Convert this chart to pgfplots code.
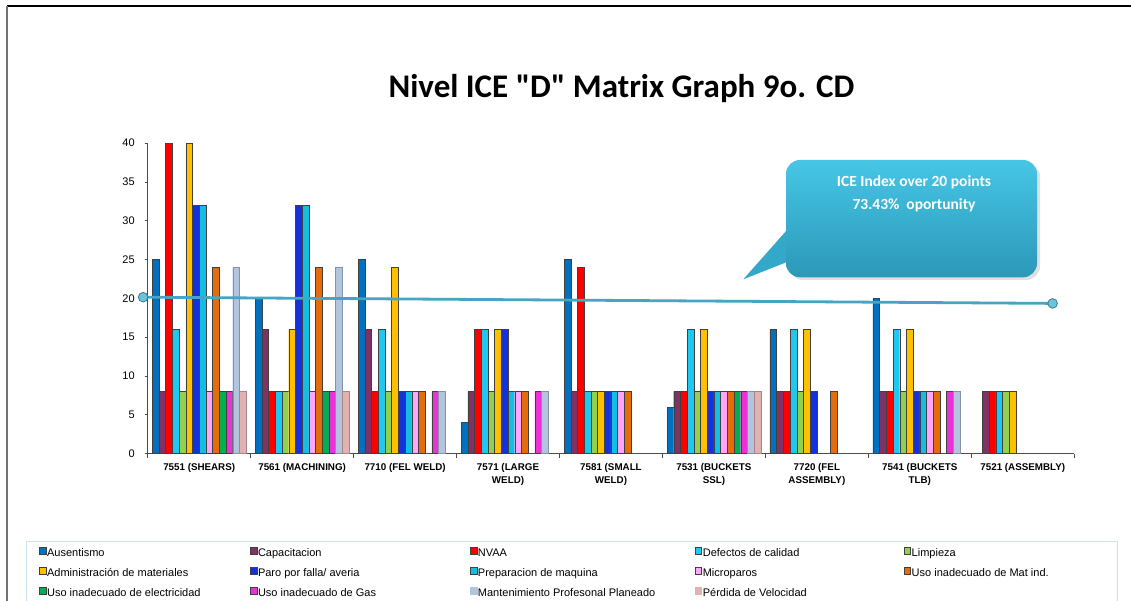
\documentclass[border=0pt]{standalone}
\usepackage{pgfplots}
\pgfplotsset{compat=1.18}
\usepackage{fontspec}
\setmainfont{Liberation Sans}
\newfontfamily\calibri{Carlito}
\definecolor{cAus}{RGB}{0,112,192}
\definecolor{cCap}{RGB}{128,50,100}
\definecolor{cNVAA}{RGB}{255,0,0}
\definecolor{cDef}{RGB}{30,200,240}
\definecolor{cLimp}{RGB}{146,208,80}
\definecolor{cAdm}{RGB}{255,192,0}
\definecolor{cParo}{RGB}{20,50,220}
\definecolor{cPrep}{RGB}{20,190,225}
\definecolor{cMicro}{RGB}{255,165,250}
\definecolor{cMat}{RGB}{228,108,10}
\definecolor{cElec}{RGB}{0,176,80}
\definecolor{cGas}{RGB}{235,50,215}
\definecolor{cMant}{RGB}{178,196,222}
\definecolor{cPerd}{RGB}{226,178,178}
\definecolor{lineC}{RGB}{70,165,195}
\definecolor{markC}{RGB}{110,195,220}
\definecolor{cTop}{RGB}{70,198,230}
\definecolor{cBot}{RGB}{44,152,184}
\definecolor{cTri}{RGB}{52,168,200}
\definecolor{legC}{RGB}{205,225,235}
\pgfplotsset{
  mybar/.style={fill=#1, draw=black!75, line width=0.4pt,
    legend image code/.code={\draw[fill=#1,draw=black!75,line width=0.4pt] (0pt,-0.5pt) rectangle (6.5pt,6pt);}},
  mybarl/.style={fill=#1, draw=#1!75!black, line width=0.3pt,
    legend image code/.code={\draw[fill=#1,draw=#1,line width=0.3pt] (0pt,-0.5pt) rectangle (6.5pt,6pt);}},
}
\newcommand{\legent}[2]{\addlegendentry{\makebox[#1pt][l]{#2}}}
\begin{document}
\begin{tikzpicture}[x=1pt,y=1pt]
\useasboundingbox (0,0) rectangle (1131,601);
\clip (0,0) rectangle (1131,601);
\fill[white] (0,0) rectangle (1131,601);
\draw[black, line width=2pt] (7,595) -- (1131,595);
\draw[black!55, line width=1.8pt] (7,595) -- (7,-5);
\node[font=\calibri\bfseries\fontsize{33}{36}\selectfont, anchor=base] at (621.5,503.7) {Nivel ICE "D" Matrix Graph 9o. CD};
\draw[legC, line width=0.8pt] (26,60) rectangle (1117,-10);
\begin{axis}[
  at={(143.5,190)}, anchor=south west,
  scale only axis, width=926.5pt, height=310.4pt,
  ybar=0pt, bar width=6.7pt,
  xmin=-0.5, xmax=8.5, ymin=0, ymax=40,
  ytick={0,5,...,40},
  xtick={0,...,8},
  xticklabels={7551 (SHEARS),7561 (MACHINING),7710 (FEL WELD),7571 (LARGE\\WELD),7581 (SMALL\\WELD),7531 (BUCKETS\\SSL),7720 (FEL\\ASSEMBLY),7541 (BUCKETS\\TLB),7521 (ASSEMBLY)},
  minor xtick={-0.5,0.5,...,8.5},
  axis x line*=bottom, axis y line*=left,
  axis line style={-, black!70, line width=0.8pt},
  tick align=outside,
  major tick length=3pt, minor tick length=4pt,
  major x tick style={draw=none},
  minor x tick style={black!70, line width=0.8pt},
  y tick style={black!70, line width=0.8pt},
  /pgf/number format/assume math mode=true,
  yticklabel style={font=\fontsize{11}{13}\selectfont, xshift=-6.5pt},
  xticklabel style={font=\bfseries\fontsize{9.8}{13.8}\selectfont, align=center, yshift=-3pt},
  legend columns=5,
  legend style={at={(-0.1171,-0.302)}, anchor=north west, draw=none, fill=none,
    inner sep=0pt, outer sep=0pt, row sep=9pt,
    nodes={inner sep=0pt, font=\fontsize{11}{13}\selectfont},
    /tikz/every odd column/.append style={column sep=1pt}},
]
\addplot[mybar=cAus] coordinates {(0,25)(1,20)(2,25)(3,4)(4,25)(5,6)(6,16)(7,20)};
\legent{203}{Ausentismo}
\addplot[mybar=cCap] coordinates {(0,8)(1,16)(2,16)(3,8)(4,8)(5,8)(6,8)(7,8)(8,8)};
\legent{212}{Capacitacion}
\addplot[mybar=cNVAA] coordinates {(0,40)(1,8)(2,8)(3,16)(4,24)(5,8)(6,8)(7,8)(8,8)};
\legent{217}{NVAA}
\addplot[mybar=cDef] coordinates {(0,16)(1,8)(2,16)(3,16)(4,8)(5,16)(6,16)(7,16)(8,8)};
\legent{201}{Defectos de calidad}
\addplot[mybar=cLimp] coordinates {(0,8)(1,8)(2,8)(3,8)(4,8)(5,8)(6,8)(7,8)(8,8)};
\legent{185}{Limpieza}
\addplot[mybar=cAdm] coordinates {(0,40)(1,16)(2,24)(3,16)(4,8)(5,16)(6,16)(7,16)(8,8)};
\legent{203}{Administración de materiales}
\addplot[mybar=cParo] coordinates {(0,32)(1,32)(2,8)(3,16)(4,8)(5,8)(6,8)(7,8)};
\legent{212}{Paro por falla/ averia}
\addplot[mybar=cPrep] coordinates {(0,32)(1,32)(2,8)(3,8)(4,8)(5,8)(7,8)};
\legent{217}{Preparacion de maquina}
\addplot[mybar=cMicro] coordinates {(0,8)(1,8)(2,8)(3,8)(4,8)(5,8)(7,8)};
\legent{201}{Microparos}
\addplot[mybar=cMat] coordinates {(0,24)(1,24)(2,8)(3,8)(4,8)(5,8)(6,8)(7,8)};
\legent{185}{Uso inadecuado de Mat ind.}
\addplot[mybar=cElec] coordinates {(0,8)(1,8)(5,8)};
\legent{203}{Uso inadecuado de electricidad}
\addplot[mybar=cGas] coordinates {(0,8)(1,8)(2,8)(3,8)(5,8)(7,8)};
\legent{212}{Uso inadecuado de Gas}
\addplot[mybarl=cMant] coordinates {(0,24)(1,24)(2,8)(3,8)(5,8)(7,8)};
\legent{217}{Mantenimiento Profesonal Planeado}
\addplot[mybarl=cPerd] coordinates {(0,8)(1,8)(5,8)};
\legent{201}{Pérdida de Velocidad}
\end{axis}
\begin{axis}[
  at={(143.5,190)}, anchor=south west,
  scale only axis, width=926.5pt, height=310.4pt,
  xmin=-0.5, xmax=8.5, ymin=0, ymax=40, hide axis, clip=false]
\addplot[color=lineC, line width=2.8pt, mark=*, mark size=4.8pt,
  mark options={fill=markC, draw=lineC!75!black, line width=0.8pt}]
  coordinates {(-0.545,20.15) (8.29,19.35)};
\end{axis}
\fill[black!12, rounded corners=14pt] (789,321) rectangle (1040,438);
\fill[cTri] (743.3,321.7) -- (787,371) -- (787,339) -- cycle;
\shade[top color=cTop, bottom color=cBot, rounded corners=14pt] (786,441) rectangle (1037,323.7);
\node[font=\calibri\bfseries\fontsize{15.5}{18}\selectfont, text=white, anchor=base] at (914,414.3) {ICE Index over 20 points};
\node[font=\calibri\bfseries\fontsize{15.5}{18}\selectfont, text=white, anchor=base] at (914,391) {73.43\%\ \ oportunity};
\end{tikzpicture}
\end{document}
